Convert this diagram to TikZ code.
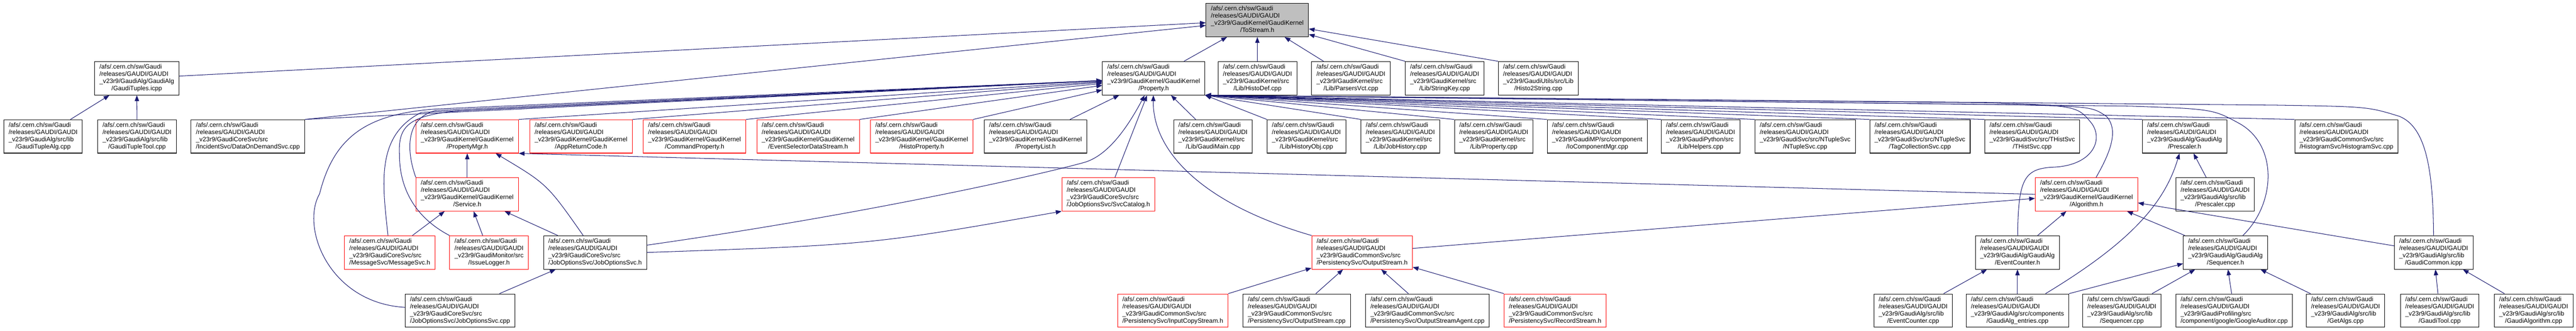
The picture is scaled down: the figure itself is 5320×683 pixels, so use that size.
\documentclass[tikz,border=0pt]{standalone}
\usepackage{fontspec}
\setmainfont{Liberation Sans}
\usetikzlibrary{arrows.meta}

\definecolor{edgeblue}{HTML}{191970}
\definecolor{truncred}{HTML}{FF0000}
\definecolor{focusgray}{HTML}{BFBFBF}

% the four-line file label, last line centred
\newcommand{\gaudifile}[2]{%
  \begin{tabular}{@{}l@{}}/afs/.cern.ch/sw/Gaudi\\/releases/GAUDI/GAUDI\\#1\\\multicolumn{1}{@{}c@{}}{#2}\end{tabular}}

\tikzset{
  filebox/.style={draw=black, fill=white, line width=1.1pt, minimum height=69pt,
    inner xsep=10pt, inner ysep=0pt, font=\fontsize{13}{14.8}\selectfont},
  truncbox/.style={filebox, draw=truncred},
  focusbox/.style={filebox, fill=focusgray},
  inclarrow/.style={draw=edgeblue, line width=1.1pt, -{Triangle[length=12pt,width=9pt]}}
}

\begin{document}
\begin{tikzpicture}[x=1pt, y=-1pt]

    \useasboundingbox (0,0) rectangle (5320,683);

    % Row 1: the header itself
    \node[focusbox] (ToStream) at (2596.5,41.5) {\gaudifile{\_v23r9/GaudiKernel/GaudiKernel}{/ToStream.h}};

    % Row 2
    \node[filebox] (TuplesIcpp) at (282.5,161.5) {\gaudifile{\_v23r9/GaudiAlg/GaudiAlg}{/GaudiTuples.icpp}};
    \node[filebox] (PropH) at (2382.6,161.5) {\gaudifile{\_v23r9/GaudiKernel/GaudiKernel}{/Property.h}};
    \node[filebox] (HistoDef) at (2597,161.5) {\gaudifile{\_v23r9/GaudiKernel/src}{/Lib/HistoDef.cpp}};
    \node[filebox] (ParsersVct) at (2790,161.5) {\gaudifile{\_v23r9/GaudiKernel/src}{/Lib/ParsersVct.cpp}};
    \node[filebox] (StringKey) at (2983.5,161.5) {\gaudifile{\_v23r9/GaudiKernel/src}{/Lib/StringKey.cpp}};
    \node[filebox] (Histo2String) at (3177,161.5) {\gaudifile{\_v23r9/GaudiUtils/src/Lib}{/Histo2String.cpp}};

    % Row 3
    \node[filebox] (TupleAlg) at (89,281.5) {\gaudifile{\_v23r9/GaudiAlg/src/lib}{/GaudiTupleAlg.cpp}};
    \node[filebox] (TupleTool) at (283,281.5) {\gaudifile{\_v23r9/GaudiAlg/src/lib}{/GaudiTupleTool.cpp}};
    \node[filebox] (DataOnDemand) at (512,281.5) {\gaudifile{\_v23r9/GaudiCoreSvc/src}{/IncidentSvc/DataOnDemandSvc.cpp}};
    \node[truncbox] (PropertyMgr) at (965,281.5) {\gaudifile{\_v23r9/GaudiKernel/GaudiKernel}{/PropertyMgr.h}};
    \node[truncbox] (AppReturnCode) at (1200,281.5) {\gaudifile{\_v23r9/GaudiKernel/GaudiKernel}{/AppReturnCode.h}};
    \node[truncbox] (CommandProperty) at (1434.5,281.5) {\gaudifile{\_v23r9/GaudiKernel/GaudiKernel}{/CommandProperty.h}};
    \node[truncbox] (EvtSelDS) at (1669,281.5) {\gaudifile{\_v23r9/GaudiKernel/GaudiKernel}{/EventSelectorDataStream.h}};
    \node[truncbox] (HistoProperty) at (1903.5,281.5) {\gaudifile{\_v23r9/GaudiKernel/GaudiKernel}{/HistoProperty.h}};
    \node[filebox] (PropertyList) at (2138.5,281.5) {\gaudifile{\_v23r9/GaudiKernel/GaudiKernel}{/PropertyList.h}};
    \node[filebox] (GaudiMain) at (2505,281.5) {\gaudifile{\_v23r9/GaudiKernel/src}{/Lib/GaudiMain.cpp}};
    \node[filebox] (HistoryObj) at (2698,281.5) {\gaudifile{\_v23r9/GaudiKernel/src}{/Lib/HistoryObj.cpp}};
    \node[filebox] (JobHistory) at (2892,281.5) {\gaudifile{\_v23r9/GaudiKernel/src}{/Lib/JobHistory.cpp}};
    \node[filebox] (PropertyCpp) at (3085,281.5) {\gaudifile{\_v23r9/GaudiKernel/src}{/Lib/Property.cpp}};
    \node[filebox] (IoComponentMgr) at (3298.5,281.5) {\gaudifile{\_v23r9/GaudiMP/src/component}{/IoComponentMgr.cpp}};
    \node[filebox] (Helpers) at (3512,281.5) {\gaudifile{\_v23r9/GaudiPython/src}{/Lib/Helpers.cpp}};
    \node[filebox] (NTupleSvc) at (3728,281.5) {\gaudifile{\_v23r9/GaudiSvc/src/NTupleSvc}{/NTupleSvc.cpp}};
    \node[filebox] (TagCollectionSvc) at (3965,281.5) {\gaudifile{\_v23r9/GaudiSvc/src/NTupleSvc}{/TagCollectionSvc.cpp}};
    \node[filebox] (THistSvc) at (4197,281.5) {\gaudifile{\_v23r9/GaudiSvc/src/THistSvc}{/THistSvc.cpp}};
    \node[filebox] (PrescalerH) at (4511.6,281.5) {\gaudifile{\_v23r9/GaudiAlg/GaudiAlg}{/Prescaler.h}};
    \node[filebox] (HistogramSvc) at (4846,281.5) {\gaudifile{\_v23r9/GaudiCommonSvc/src}{/HistogramSvc/HistogramSvc.cpp}};

    % Row 4
    \node[truncbox] (Service) at (965,401) {\gaudifile{\_v23r9/GaudiKernel/GaudiKernel}{/Service.h}};
    \node[truncbox] (SvcCatalog) at (2289,401) {\gaudifile{\_v23r9/GaudiCoreSvc/src}{/JobOptionsSvc/SvcCatalog.h}};
    \node[truncbox] (AlgorithmH) at (4309,401) {\gaudifile{\_v23r9/GaudiKernel/GaudiKernel}{/Algorithm.h}};
    \node[filebox] (PrescalerCpp) at (4574.7,401) {\gaudifile{\_v23r9/GaudiAlg/src/lib}{/Prescaler.cpp}};

    % Row 5
    \node[truncbox] (MessageSvc) at (805,521) {\gaudifile{\_v23r9/GaudiCoreSvc/src}{/MessageSvc/MessageSvc.h}};
    \node[truncbox] (IssueLogger) at (1010,521) {\gaudifile{\_v23r9/GaudiMonitor/src}{/IssueLogger.h}};
    \node[filebox] (JobOptSvcH) at (1229,521) {\gaudifile{\_v23r9/GaudiCoreSvc/src}{/JobOptionsSvc/JobOptionsSvc.h}};
    \node[truncbox] (OutputStreamH) at (2813,521) {\gaudifile{\_v23r9/GaudiCommonSvc/src}{/PersistencySvc/OutputStream.h}};
    \node[filebox] (EventCounterH) at (4166.5,521) {\gaudifile{\_v23r9/GaudiAlg/GaudiAlg}{/EventCounter.h}};
    \node[filebox] (SequencerH) at (4596,521) {\gaudifile{\_v23r9/GaudiAlg/GaudiAlg}{/Sequencer.h}};
    \node[filebox] (GaudiCommon) at (5026,521) {\gaudifile{\_v23r9/GaudiAlg/src/lib}{/GaudiCommon.icpp}};

    % Row 6
    \node[filebox] (JobOptSvcCpp) at (950,641) {\gaudifile{\_v23r9/GaudiCoreSvc/src}{/JobOptionsSvc/JobOptionsSvc.cpp}};
    \node[truncbox] (InputCopyStream) at (2422,641) {\gaudifile{\_v23r9/GaudiCommonSvc/src}{/PersistencySvc/InputCopyStream.h}};
    \node[filebox] (OutputStreamCpp) at (2678,641) {\gaudifile{\_v23r9/GaudiCommonSvc/src}{/PersistencySvc/OutputStream.cpp}};
    \node[filebox] (OutputStreamAgent) at (2948,641) {\gaudifile{\_v23r9/GaudiCommonSvc/src}{/PersistencySvc/OutputStreamAgent.cpp}};
    \node[truncbox] (RecordStream) at (3211.6,641) {\gaudifile{\_v23r9/GaudiCommonSvc/src}{/PersistencySvc/RecordStream.h}};
    \node[filebox] (EventCounterCpp) at (3951,641) {\gaudifile{\_v23r9/GaudiAlg/src/lib}{/EventCounter.cpp}};
    \node[filebox] (GaudiAlgEntries) at (4166.5,641) {\gaudifile{\_v23r9/GaudiAlg/src/components}{/GaudiAlg\_entries.cpp}};
    \node[filebox] (SequencerCpp) at (4382,641) {\gaudifile{\_v23r9/GaudiAlg/src/lib}{/Sequencer.cpp}};
    \node[filebox] (GoogleAuditor) at (4614,641) {\gaudifile{\_v23r9/GaudiProfiling/src}{/component/google/GoogleAuditor.cpp}};
    \node[filebox] (GetAlgs) at (4844,641) {\gaudifile{\_v23r9/GaudiAlg/src/lib}{/GetAlgs.cpp}};
    \node[filebox] (GaudiToolCpp) at (5038.5,641) {\gaudifile{\_v23r9/GaudiAlg/src/lib}{/GaudiTool.cpp}};
    \node[filebox] (GaudiAlgorithmCpp) at (5232.5,641) {\gaudifile{\_v23r9/GaudiAlg/src/lib}{/GaudiAlgorithm.cpp}};

    % Includes of ToStream.h
    \draw[inclarrow] (TuplesIcpp) -- (ToStream);
    \draw[inclarrow] (DataOnDemand.north east) -- (ToStream);
    \draw[inclarrow] (PropH) -- (ToStream);
    \draw[inclarrow] (HistoDef) -- (ToStream);
    \draw[inclarrow] (ParsersVct) -- (ToStream);
    \draw[inclarrow] (StringKey.north west) -- (ToStream);
    \draw[inclarrow] (Histo2String.north west) -- (ToStream);

    % Includes of GaudiTuples.icpp
    \draw[inclarrow] (TupleAlg) -- (TuplesIcpp);
    \draw[inclarrow] (TupleTool) -- (TuplesIcpp);

    % Includes of Property.h, coming in from the left
    \draw[inclarrow] (DataOnDemand.north east) -- (PropH);
    \draw[inclarrow] (JobOptSvcCpp) .. controls (680,625) and (620,470) .. (660,400)
        .. controls (690,280) and (760,235) .. (900,225) -- (PropH);
    \draw[inclarrow] (MessageSvc) .. controls (790,380) and (775,280) .. (870,232) -- (PropH);
    \draw[inclarrow] (IssueLogger.north west) .. controls (850,445) and (825,380) .. (825,320)
        .. controls (822,262) and (840,236) .. (960,228) -- (PropH);
    \draw[inclarrow] (Service.north west) .. controls (842,320) and (832,245) .. (900,228) -- (PropH);
    \draw[inclarrow] (PropertyMgr.north east) -- (PropH);
    \draw[inclarrow] (AppReturnCode.north east) -- (PropH);
    \draw[inclarrow] (CommandProperty.north east) -- (PropH);
    \draw[inclarrow] (EvtSelDS.north east) -- (PropH);
    \draw[inclarrow] (HistoProperty.north east) -- (PropH);
    \draw[inclarrow] (PropertyList) -- (PropH);

    % Includes of Property.h, coming in from below
    \draw[inclarrow] (JobOptSvcH) .. controls (1800,440) and (2150,360) .. (2240,335)
        .. controls (2290,320) and (2330,260) .. (PropH);
    \draw[inclarrow] (SvcCatalog) -- (PropH);
    \draw[inclarrow] (OutputStreamH.north west) .. controls (2480,420) and (2380,310) .. (PropH);
    \draw[inclarrow] (GaudiMain) -- (PropH);
    \draw[inclarrow] (HistoryObj.north west) -- (PropH.south east);

    % Includes of Property.h, the bundle from the right
    \draw[inclarrow] (JobHistory.north west) -- (PropH.south east);
    \draw[inclarrow] (PropertyCpp.north west) -- (PropH.south east);
    \draw[inclarrow] (IoComponentMgr.north west) -- (PropH.south east);
    \draw[inclarrow] (Helpers.north west) -- (PropH.south east);
    \draw[inclarrow] (NTupleSvc.north west) -- (PropH.south east);
    \draw[inclarrow] (TagCollectionSvc.north west) -- (PropH.south east);
    \draw[inclarrow] (THistSvc.north west) -- (PropH.south east);
    \draw[inclarrow] (PrescalerH.north west) -- (PropH.south east);
    \draw[inclarrow] (HistogramSvc.north west) -- (PropH.south east);
    \draw[inclarrow] (EventCounterH) .. controls (4168,370) and (4180,348) .. (4240,345)
        .. controls (4320,342) and (4345,290) .. (4320,255)
        .. controls (4290,218) .. (4100,212) -- (PropH.south east);
    \draw[inclarrow] (AlgorithmH) .. controls (4355,320) and (4378,270) .. (4350,240)
        .. controls (4320,220) .. (4150,216) -- (PropH.south east);
    \draw[inclarrow] (SequencerH) .. controls (4700,420) and (4705,300) .. (4625,255)
        .. controls (4570,225) .. (4400,219) -- (PropH.south east);
    \draw[inclarrow] (GaudiCommon) .. controls (5025,350) and (5010,262) .. (4955,240)
        .. controls (4890,220) .. (4700,217) -- (PropH.south east);

    % Includes of PropertyMgr.h and Service.h
    \draw[inclarrow] (Service) -- (PropertyMgr);
    \draw[inclarrow] (JobOptSvcH) .. controls (1130,380) .. (PropertyMgr);
    \draw[inclarrow] (AlgorithmH.west) -- (PropertyMgr.south east);
    \draw[inclarrow] (MessageSvc) -- (Service);
    \draw[inclarrow] (IssueLogger) -- (Service);
    \draw[inclarrow] (JobOptSvcH) -- (Service);

    % Job options service
    \draw[inclarrow] (JobOptSvcCpp) -- (JobOptSvcH);
    \draw[inclarrow] (JobOptSvcH.east) .. controls (1800,505) .. (SvcCatalog.south west);

    % Persistency streams
    \draw[inclarrow] (InputCopyStream.north east) -- (OutputStreamH);
    \draw[inclarrow] (OutputStreamCpp) -- (OutputStreamH);
    \draw[inclarrow] (OutputStreamAgent) -- (OutputStreamH);
    \draw[inclarrow] (RecordStream.north west) -- (OutputStreamH);

    % Includes of Algorithm.h
    \draw[inclarrow] (OutputStreamH) -- (AlgorithmH);
    \draw[inclarrow] (EventCounterH) -- (AlgorithmH);
    \draw[inclarrow] (SequencerH) -- (AlgorithmH);
    \draw[inclarrow] (GaudiCommon) -- (AlgorithmH);

    % GaudiAlg headers and their users
    \draw[inclarrow] (GaudiAlgEntries) .. controls (4400,500) and (4470,420) .. (PrescalerH);
    \draw[inclarrow] (PrescalerCpp) -- (PrescalerH);
    \draw[inclarrow] (EventCounterCpp) -- (EventCounterH);
    \draw[inclarrow] (GaudiAlgEntries) -- (EventCounterH);
    \draw[inclarrow] (GaudiAlgEntries.north east) -- (SequencerH);
    \draw[inclarrow] (SequencerCpp) -- (SequencerH);
    \draw[inclarrow] (GoogleAuditor) -- (SequencerH);
    \draw[inclarrow] (GetAlgs) -- (SequencerH);
    \draw[inclarrow] (GaudiToolCpp) -- (GaudiCommon);
    \draw[inclarrow] (GaudiAlgorithmCpp) -- (GaudiCommon);

\end{tikzpicture}
\end{document}
